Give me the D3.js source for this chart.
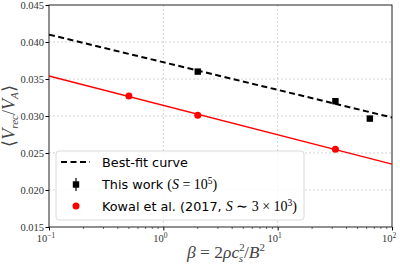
<!DOCTYPE html>
<html>
<head>
<meta charset="utf-8">
<script src="https://cdn.jsdelivr.net/npm/d3@7"></script>
<style>
  body { margin: 0; background: #fff; }
  text { font-family: "DejaVu Serif", "Liberation Serif", serif; }
  .leg { font-family: "DejaVu Sans", sans-serif; font-size: 12.8px; }
  .m { font-family: "Liberation Serif", serif; font-style: italic; }
  .r { font-family: "Liberation Serif", serif; }
</style>
</head>
<body>
<div id="chart"></div>
<script>
// data
const workBeta = [2, 32, 64]
const workV = [0.0360, 0.0320, 0.02965]
const workErr = [0.0003, 0.0003, 0.0004]
const kowalBeta = [0.5, 2, 32]
const kowalV = [0.0327, 0.0301, 0.0255]
const fitBeta = [0.1, 100]
const fitBlack = [0.0410, 0.0298]
const fitRed = [0.0354, 0.0235]
const yTicks = [0.015, 0.020, 0.025, 0.030, 0.035, 0.040, 0.045]
const xTicks = [0.1, 1, 10, 100]
const xTickExp = ["\u22121", "0", "1", "2"]

const width = 400, height = 264
const svg = d3.select("#chart").append("svg")
    .attr("width", width)
    .attr("height", height)

const x = d3.scaleLog().domain([0.1, 100]).range([49, 392])
const y = d3.scaleLinear().domain([0.015, 0.045]).range([227, 5])

// grid
const grid = svg.append("g")
grid.selectAll(".gx").data(xTicks.slice(1, 3)).enter().append("line")
    .attr("x1", d => x(d)).attr("x2", d => x(d))
    .attr("y1", y(0.045)).attr("y2", y(0.015))
    .attr("stroke", "#c8c8c8").attr("stroke-dasharray", "2,2").attr("stroke-width", 0.8)
grid.selectAll(".gy").data(yTicks.slice(1, 6)).enter().append("line")
    .attr("y1", d => y(d)).attr("y2", d => y(d))
    .attr("x1", x(0.1)).attr("x2", x(100))
    .attr("stroke", "#c8c8c8").attr("stroke-dasharray", "2,2").attr("stroke-width", 0.8)

// axes
const yAxis = svg.append("g")
    .attr("transform", "translate(" + x(0.1) + ",0)")
    .call(d3.axisLeft(y).tickValues(yTicks).tickFormat(d3.format(".3f")).tickSize(3.5).tickSizeOuter(0))
yAxis.attr("font-family", null)
yAxis.selectAll("text").attr("class", "r").attr("font-size", 10.5).attr("fill", "#333").attr("x", -5)
yAxis.select(".domain").remove()

const minor = []
for (let dec = 0.1; dec < 100; dec *= 10) {
    for (let k = 2; k <= 9; k++) minor.push(dec * k)
}
const xAxis = svg.append("g")
    .attr("transform", "translate(0," + y(0.015) + ")")
    .call(d3.axisBottom(x).tickValues(xTicks).tickFormat("").tickSize(3.5).tickSizeOuter(0))
xAxis.select(".domain").remove()
svg.append("g")
    .attr("transform", "translate(0," + y(0.015) + ")")
    .selectAll("line").data(minor).enter().append("line")
    .attr("x1", d => x(d)).attr("x2", d => x(d))
    .attr("y1", 0).attr("y2", 2)
    .attr("stroke", "#000").attr("stroke-width", 0.6)

xTicks.forEach((t, i) => {
    const tx = svg.append("text")
        .attr("class", "r")
        .attr("x", x(t) - 3)
        .attr("y", y(0.015) + 15)
        .attr("text-anchor", "middle")
        .attr("font-size", 10.5)
        .attr("fill", "#333")
    tx.append("tspan").text("10")
    tx.append("tspan").text(xTickExp[i]).attr("font-size", 7.5).attr("dy", -4)
})

// frame
svg.append("rect")
    .attr("x", x(0.1)).attr("y", y(0.045))
    .attr("width", x(100) - x(0.1)).attr("height", y(0.015) - y(0.045))
    .attr("fill", "none").attr("stroke", "#222").attr("stroke-width", 1)

// fit lines
const line = d3.line().x(d => x(d[0])).y(d => y(d[1]))
svg.append("path")
    .datum(fitBeta.map((b, i) => [b, fitRed[i]]))
    .attr("d", line).attr("stroke", "#ff0000").attr("stroke-width", 1.4).attr("fill", "none")
svg.append("path")
    .datum(fitBeta.map((b, i) => [b, fitBlack[i]]))
    .attr("d", line).attr("stroke", "#000").attr("stroke-width", 2)
    .attr("stroke-dasharray", "6,3.5").attr("fill", "none")

// points
svg.selectAll(".kowal").data(kowalBeta).enter().append("circle")
    .attr("cx", d => x(d)).attr("cy", (d, i) => y(kowalV[i]))
    .attr("r", 3.5).attr("fill", "#ff0000")
workBeta.forEach((b, i) => {
    svg.append("line")
        .attr("x1", x(b)).attr("x2", x(b))
        .attr("y1", y(workV[i] - workErr[i])).attr("y2", y(workV[i] + workErr[i]))
        .attr("stroke", "#000").attr("stroke-width", 1.2)
    svg.append("rect")
        .attr("x", x(b) - 3.2).attr("y", y(workV[i]) - 3.2)
        .attr("width", 6.4).attr("height", 6.4).attr("fill", "#000")
})

// legend
const lg = svg.append("g")
lg.append("rect")
    .attr("x", 56).attr("y", 151).attr("width", 248).attr("height", 69).attr("rx", 3)
    .attr("fill", "#fff").attr("fill-opacity", 0.85).attr("stroke", "#d0d0d0").attr("stroke-width", 0.8)
lg.append("line").attr("x1", 61).attr("x2", 90).attr("y1", 162).attr("y2", 162)
    .attr("stroke", "#000").attr("stroke-width", 2).attr("stroke-dasharray", "6,3.5")
lg.append("line").attr("x1", 76).attr("x2", 76).attr("y1", 178).attr("y2", 191)
    .attr("stroke", "#000").attr("stroke-width", 1.2)
lg.append("rect").attr("x", 72.8).attr("y", 181.3).attr("width", 6.4).attr("height", 6.4).attr("fill", "#000")
lg.append("circle").attr("cx", 76).attr("cy", 206).attr("r", 3.5).attr("fill", "#ff0000")

lg.append("text").attr("class", "leg").attr("x", 102).attr("y", 167).text("Best-fit curve")
const t2 = lg.append("text").attr("class", "leg").attr("x", 102).attr("y", 189)
t2.append("tspan").text("This work ")
t2.append("tspan").attr("class", "r").attr("font-size", 14).text("(")
t2.append("tspan").attr("class", "m").attr("font-size", 14).text("S")
t2.append("tspan").attr("class", "r").attr("font-size", 14).text(" = 10")
t2.append("tspan").attr("class", "r").attr("font-size", 9.5).attr("dy", -5).text("5")
t2.append("tspan").attr("class", "r").attr("font-size", 14).attr("dy", 5).text(")")
const t3 = lg.append("text").attr("class", "leg").attr("x", 102).attr("y", 211)
t3.append("tspan").text("Kowal et al. (2017, ")
t3.append("tspan").attr("class", "m").attr("font-size", 14).text("S")
t3.append("tspan").attr("class", "r").attr("font-size", 14).text(" \u223C 3 \u00D7 10")
t3.append("tspan").attr("class", "r").attr("font-size", 9.5).attr("dy", -5).text("3")
t3.append("tspan").attr("class", "r").attr("font-size", 14).attr("dy", 5).text(")")

// axis labels
const xl = svg.append("text")
    .attr("class", "r")
    .attr("x", 226).attr("y", 258).attr("text-anchor", "middle")
    .attr("font-size", 17.5).attr("fill", "#444")
xl.append("tspan").attr("class", "m").text("\u03B2")
xl.append("tspan").text(" = 2")
xl.append("tspan").attr("class", "m").text("\u03C1c")
xl.append("tspan").attr("font-size", 11).attr("dy", -7).text("2")
xl.append("tspan").attr("class", "m").attr("font-size", 11).attr("dy", 11).attr("dx", -6).text("s")
xl.append("tspan").attr("dy", -4).attr("dx", 1).text("/")
xl.append("tspan").attr("class", "m").text("B")
xl.append("tspan").attr("font-size", 11).attr("dy", -7).text("2")

const yl = svg.append("text")
    .attr("class", "r")
    .attr("transform", "translate(15,116) rotate(-90)")
    .attr("text-anchor", "middle").attr("font-size", 18).attr("fill", "#444")
yl.append("tspan").text("\u27E8")
yl.append("tspan").attr("class", "m").text("V")
yl.append("tspan").attr("class", "m").attr("font-size", 11).attr("dy", 3).text("rec")
yl.append("tspan").attr("dy", -3).text("/")
yl.append("tspan").attr("class", "m").text("V")
yl.append("tspan").attr("class", "m").attr("font-size", 11).attr("dy", 3).text("A")
yl.append("tspan").attr("dy", -3).text("\u27E9")
</script>
</body>
</html>
